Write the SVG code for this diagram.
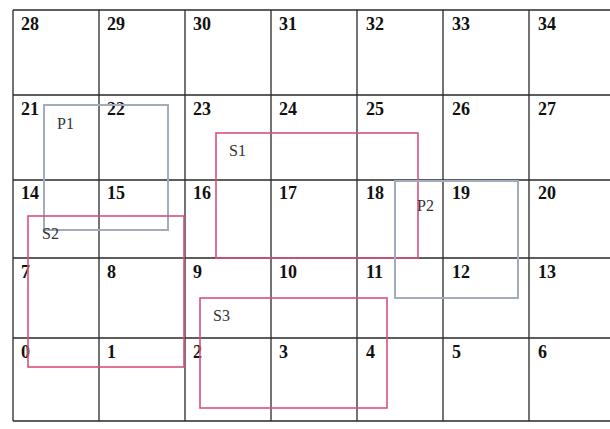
<svg xmlns="http://www.w3.org/2000/svg" width="610" height="429" viewBox="0 0 610 429">
<style>
.grid{stroke:#2a2a2a;stroke-width:1.3;fill:none}
.num{font-family:"Liberation Serif",serif;font-weight:bold;font-size:18px;fill:#111}
.lbl{font-family:"Liberation Serif",serif;font-size:16px;fill:#333}
.s{fill:none;stroke:#d8527a;stroke-width:1.6}
.p{fill:none;stroke:#a3acbd;stroke-width:2}
</style>
<rect width="610" height="429" fill="#fff"/>
<g id="grid">
<path class="grid" d="M13 10H616M13 95H616M13 180H616M13 258H616M13 338H616M13 421H616M13 10V421M99 10V421M185 10V421M271 10V421M357 10V421M443 10V421M529 10V421"/>
</g>
<g id="cells">
<text class="num" x="21" y="30">28</text><text class="num" x="107" y="30">29</text><text class="num" x="193" y="30">30</text><text class="num" x="279" y="30">31</text><text class="num" x="366" y="30">32</text><text class="num" x="452" y="30">33</text><text class="num" x="538" y="30">34</text>
<text class="num" x="21" y="115">21</text><text class="num" x="107" y="115">22</text><text class="num" x="193" y="115">23</text><text class="num" x="279" y="115">24</text><text class="num" x="366" y="115">25</text><text class="num" x="452" y="115">26</text><text class="num" x="538" y="115">27</text>
<text class="num" x="21" y="199">14</text><text class="num" x="107" y="199">15</text><text class="num" x="193" y="199">16</text><text class="num" x="279" y="199">17</text><text class="num" x="366" y="199">18</text><text class="num" x="452" y="199">19</text><text class="num" x="538" y="199">20</text>
<text class="num" x="21" y="278">7</text><text class="num" x="107" y="278">8</text><text class="num" x="193" y="278">9</text><text class="num" x="279" y="278">10</text><text class="num" x="366" y="278">11</text><text class="num" x="452" y="278">12</text><text class="num" x="538" y="278">13</text>
<text class="num" x="21" y="358">0</text><text class="num" x="107" y="358">1</text><text class="num" x="193" y="358">2</text><text class="num" x="279" y="358">3</text><text class="num" x="366" y="358">4</text><text class="num" x="452" y="358">5</text><text class="num" x="538" y="358">6</text>
</g>
<g id="P1"><rect class="p" x="44" y="105" width="124" height="125"/><text class="lbl" x="57" y="129">P1</text></g>
<g id="S1"><rect class="s" x="216" y="133" width="202" height="125"/><text class="lbl" x="229" y="156">S1</text></g>
<g id="S2"><rect class="s" x="28" y="216" width="156" height="151"/><text class="lbl" x="42" y="239">S2</text></g>
<g id="P2"><rect class="p" x="395" y="181" width="123" height="117"/><text class="lbl" x="417" y="211">P2</text></g>
<g id="S3"><rect class="s" x="200" y="298" width="187" height="110"/><text class="lbl" x="213" y="321">S3</text></g>
</svg>
